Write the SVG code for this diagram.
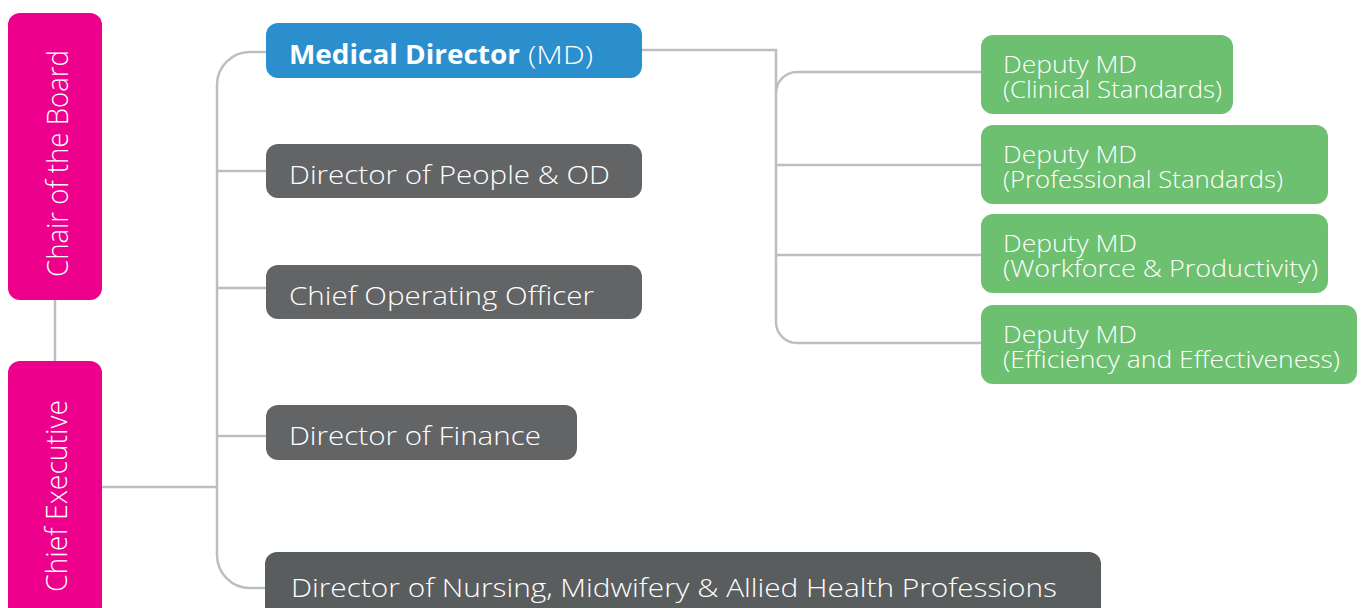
<svg xmlns="http://www.w3.org/2000/svg" width="1363" height="608" viewBox="0 0 1363 608">
  <style>
    .lead { fill: #EC008C; }
    .md { fill: #2B8ECD; }
    .dir { fill: #636466; }
    .nurse { fill: #5A5D5E; }
    .dep { fill: #6CC070; }
    .lbl { font-family: "Open Sans", "Liberation Sans", sans-serif; font-weight: 300; fill: #FFFFFF; }
    .main { font-size: 26px; }
    .sub { font-size: 24px; }
    .vert { font-size: 30px; }
    .bold { font-weight: 700; }
    .wire { fill: none; stroke: #BDBEC1; stroke-width: 2.5; }
  </style>
  <rect width="1363" height="608" fill="#FFFFFF"/>

  <!-- connectors -->
  <g id="connectors" class="wire">
    <path d="M55 300 V361"/>
    <path d="M102 487 H218"/>
    <path d="M266 52 H250 A33 33 0 0 0 217 85 V555 A33 33 0 0 0 250 588 H265"/>
    <path d="M217 171 H266"/>
    <path d="M217 288 H266"/>
    <path d="M217 436 H266"/>
    <path d="M642 50 H776 V93"/>
    <path d="M981 72 H797 A21 21 0 0 0 776 93 V322 A21 21 0 0 0 797 343 H981"/>
    <path d="M776 165 H981"/>
    <path d="M776 255 H981"/>
  </g>

  <g id="chair">
    <rect class="lead" x="8" y="13" width="94" height="287" rx="12"/>
    <text class="lbl vert" text-anchor="middle" transform="translate(68,163.5) rotate(-90)" textLength="227" lengthAdjust="spacingAndGlyphs">Chair of the Board</text>
  </g>

  <g id="chief-executive">
    <rect class="lead" x="8" y="361" width="94" height="270" rx="12"/>
    <text class="lbl vert" text-anchor="middle" transform="translate(67,496) rotate(-90)" textLength="192" lengthAdjust="spacingAndGlyphs">Chief Executive</text>
  </g>

  <g id="medical-director">
    <rect class="md" x="266" y="23" width="376" height="55" rx="12"/>
    <text class="lbl main bold" x="289" y="63.5" textLength="231" lengthAdjust="spacingAndGlyphs">Medical Director</text>
    <text class="lbl main" x="528" y="63.5" textLength="65" lengthAdjust="spacingAndGlyphs">(MD)</text>
  </g>

  <g id="people-od">
    <rect class="dir" x="266" y="144" width="376" height="54" rx="12"/>
    <text class="lbl main" x="289" y="183.5" textLength="321" lengthAdjust="spacingAndGlyphs">Director of People &amp; OD</text>
  </g>

  <g id="coo">
    <rect class="dir" x="266" y="265" width="376" height="54" rx="12"/>
    <text class="lbl main" x="289" y="304.5" textLength="305" lengthAdjust="spacingAndGlyphs">Chief Operating Officer</text>
  </g>

  <g id="finance">
    <rect class="dir" x="266" y="405" width="311" height="55" rx="12"/>
    <text class="lbl main" x="289" y="445" textLength="252" lengthAdjust="spacingAndGlyphs">Director of Finance</text>
  </g>

  <g id="nursing">
    <rect class="nurse" x="265" y="552" width="836" height="80" rx="12"/>
    <text class="lbl main" x="291" y="597" textLength="766" lengthAdjust="spacingAndGlyphs">Director of Nursing, Midwifery &amp; Allied Health Professions</text>
  </g>

  <g id="deputy-clinical">
    <rect class="dep" x="981" y="35" width="252" height="79" rx="12"/>
    <text class="lbl sub" x="1003" y="73.3" textLength="134" lengthAdjust="spacingAndGlyphs">Deputy MD</text>
    <text class="lbl sub" x="1003" y="98.3" textLength="219" lengthAdjust="spacingAndGlyphs">(Clinical Standards)</text>
  </g>

  <g id="deputy-professional">
    <rect class="dep" x="981" y="125" width="347" height="79" rx="12"/>
    <text class="lbl sub" x="1003" y="163.3" textLength="134" lengthAdjust="spacingAndGlyphs">Deputy MD</text>
    <text class="lbl sub" x="1003" y="188.3" textLength="280" lengthAdjust="spacingAndGlyphs">(Professional Standards)</text>
  </g>

  <g id="deputy-workforce">
    <rect class="dep" x="981" y="214" width="347" height="79" rx="12"/>
    <text class="lbl sub" x="1003" y="252.3" textLength="134" lengthAdjust="spacingAndGlyphs">Deputy MD</text>
    <text class="lbl sub" x="1003" y="277.3" textLength="315" lengthAdjust="spacingAndGlyphs">(Workforce &amp; Productivity)</text>
  </g>

  <g id="deputy-efficiency">
    <rect class="dep" x="981" y="305" width="376" height="79" rx="12"/>
    <text class="lbl sub" x="1003" y="343.3" textLength="134" lengthAdjust="spacingAndGlyphs">Deputy MD</text>
    <text class="lbl sub" x="1003" y="368.3" textLength="337" lengthAdjust="spacingAndGlyphs">(Efficiency and Effectiveness)</text>
  </g>
</svg>
